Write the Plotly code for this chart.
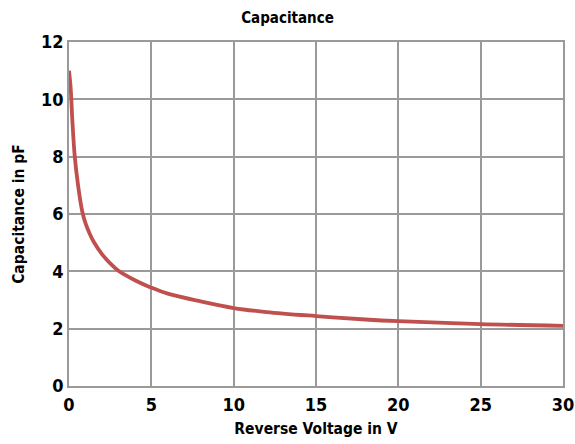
import plotly.graph_objects as go

voltage = [0, 0.1, 0.2, 0.35, 0.55, 0.8, 1.0, 1.25, 1.5, 2.0, 2.5, 3.0, 4.0, 5.0, 6.0, 8.0, 10, 12, 15, 18, 20, 25, 30]
capacitance = [11.0, 10.4, 9.3, 8.0, 7.0, 6.1, 5.68, 5.32, 5.03, 4.6, 4.28, 4.02, 3.69, 3.43, 3.22, 2.95, 2.72, 2.58, 2.44, 2.32, 2.26, 2.16, 2.10]

x_ticks = [0, 5, 10, 15, 20, 25, 30]
y_ticks = [0, 2, 4, 6, 8, 10, 12]

FONT = "DejaVu Sans Condensed, Open Sans, sans-serif"

fig = go.Figure()
fig.add_trace(go.Scatter(
    x=voltage, y=capacitance, mode="lines",
    line=dict(color="#c0504d", width=3.8, shape="spline", smoothing=1.0),
    hoverinfo="skip", showlegend=False,
))

axis_common = dict(
    showgrid=True, gridcolor="#9a9a9a", gridwidth=1.5,
    showline=True, linecolor="#9a9a9a", linewidth=1.5, mirror=True,
    zeroline=False, ticks="", automargin=False,
    tickfont=dict(family=FONT, size=18, color="#000000", weight="bold"),
)

fig.update_layout(
    width=575, height=444,
    margin=dict(l=69, r=12, t=42, b=58),
    paper_bgcolor="white", plot_bgcolor="white",
    title=dict(text="<b>Capacitance</b>", x=0.5, xref="container", xanchor="center",
               y=1 - 18 / 444, yref="container", yanchor="middle",
               font=dict(family=FONT, size=15, color="#000000")),
    xaxis=dict(range=[0, 30], tickvals=x_ticks, ticktext=[str(v) for v in x_ticks],
               ticklabelstandoff=2,
               title=dict(text="<b>Reverse Voltage in V</b>", standoff=9,
                          font=dict(family=FONT, size=15.5, color="#000000")),
               **axis_common),
    yaxis=dict(range=[0, 12], tickvals=y_ticks, ticktext=[str(v) for v in y_ticks],
               title=dict(text="<b>Capacitance in pF</b>", standoff=13,
                          font=dict(family=FONT, size=15.5, color="#000000")),
               **axis_common),
)

fig.write_html("out.html", config={"displayModeBar": False},
               post_script="document.body.style.margin='0';document.body.style.overflow='hidden';")
